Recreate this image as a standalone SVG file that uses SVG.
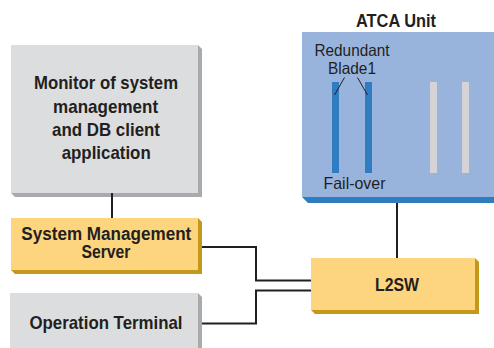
<svg xmlns="http://www.w3.org/2000/svg" width="494" height="348" viewBox="0 0 494 348">
<style>
.t{font-family:"Liberation Sans",Arial,sans-serif;font-weight:bold;font-size:19px;fill:#231f20;text-anchor:middle}
.s{font-size:17.5px}
.r{font-family:"Liberation Sans",Arial,sans-serif;font-size:16.5px;fill:#231f20;text-anchor:middle}
.gf{fill:#dcdddf}.gs{fill:#a8aaad}
.yf{fill:#fed57f}.ys{fill:#c4981a}
.ln{fill:none;stroke:#231f20;stroke-width:2}
</style>
<rect width="494" height="348" fill="#ffffff"/>
<g id="atca">
<polygon points="302,197 308,203 494,203 494,197" fill="#2f7cc1"/>
<rect x="302" y="32" width="200" height="165" fill="#98b4dd"/>
<text class="t" x="396" y="27" textLength="80" lengthAdjust="spacingAndGlyphs">ATCA Unit</text>
<rect x="332" y="82" width="7" height="91" fill="#2f7cc1"/>
<rect x="365" y="82" width="7" height="91" fill="#2f7cc1"/>
<rect x="430" y="82" width="7" height="91" fill="#d4d4d6"/>
<rect x="462" y="82" width="7" height="91" fill="#d4d4d6"/>
<text class="r" x="352" y="56" textLength="75" lengthAdjust="spacingAndGlyphs">Redundant</text>
<text class="r" x="352" y="74" textLength="48" lengthAdjust="spacingAndGlyphs">Blade1</text>
<line x1="344.5" y1="77.5" x2="334.5" y2="95" stroke="#231f20" stroke-width="1"/>
<line x1="357.5" y1="77.5" x2="367.5" y2="95" stroke="#231f20" stroke-width="1"/>
<text class="r" x="354.5" y="188.5" textLength="62" lengthAdjust="spacingAndGlyphs">Fail-over</text>
</g>
<g id="monitor">
<polygon points="198,45 202,49 202,197 15,197 11,193 198,193" class="gs"/>
<rect x="11" y="45" width="187" height="148" class="gf"/>
<text class="t" x="106" y="89" textLength="144" lengthAdjust="spacingAndGlyphs">Monitor of system</text>
<text class="t" x="105.6" y="113" textLength="105" lengthAdjust="spacingAndGlyphs">management</text>
<text class="t" x="106" y="136" textLength="108" lengthAdjust="spacingAndGlyphs">and DB client</text>
<text class="t" x="106.2" y="158.5" textLength="89" lengthAdjust="spacingAndGlyphs">application</text>
</g>
<g id="sms">
<polygon points="198,218 202,222 202,274 15,274 11,270 198,270" class="ys"/>
<rect x="11" y="218" width="187" height="52" class="yf"/>
<text class="t s" x="106.3" y="239.5" textLength="170" lengthAdjust="spacingAndGlyphs">System Management</text>
<text class="t s" x="106" y="258" textLength="49" lengthAdjust="spacingAndGlyphs">Server</text>
</g>
<g id="opterm">
<polygon points="198,293 202,297 202,348 198,348" class="gs"/>
<rect x="10" y="293" width="188" height="60" class="gf"/>
<text class="t" x="106" y="328.5" textLength="153" lengthAdjust="spacingAndGlyphs">Operation Terminal</text>
</g>
<g id="l2sw">
<polygon points="475,258 479,262 479,314 315,314 311,310 475,310" class="ys"/>
<rect x="311" y="258" width="164" height="52" class="yf"/>
<text class="t" x="397" y="291" textLength="44" lengthAdjust="spacingAndGlyphs">L2SW</text>
</g>
<g id="connectors">
<line x1="112" y1="193" x2="112" y2="218" class="ln" stroke-width="2.5"/>
<polyline points="202,247 256,247 256,280.5 311,280.5" class="ln"/>
<polyline points="202,323.5 256,323.5 256,290.5 311,290.5" class="ln"/>
<line x1="397" y1="203" x2="397" y2="258" class="ln" stroke-width="3.3"/>
</g>
</svg>
